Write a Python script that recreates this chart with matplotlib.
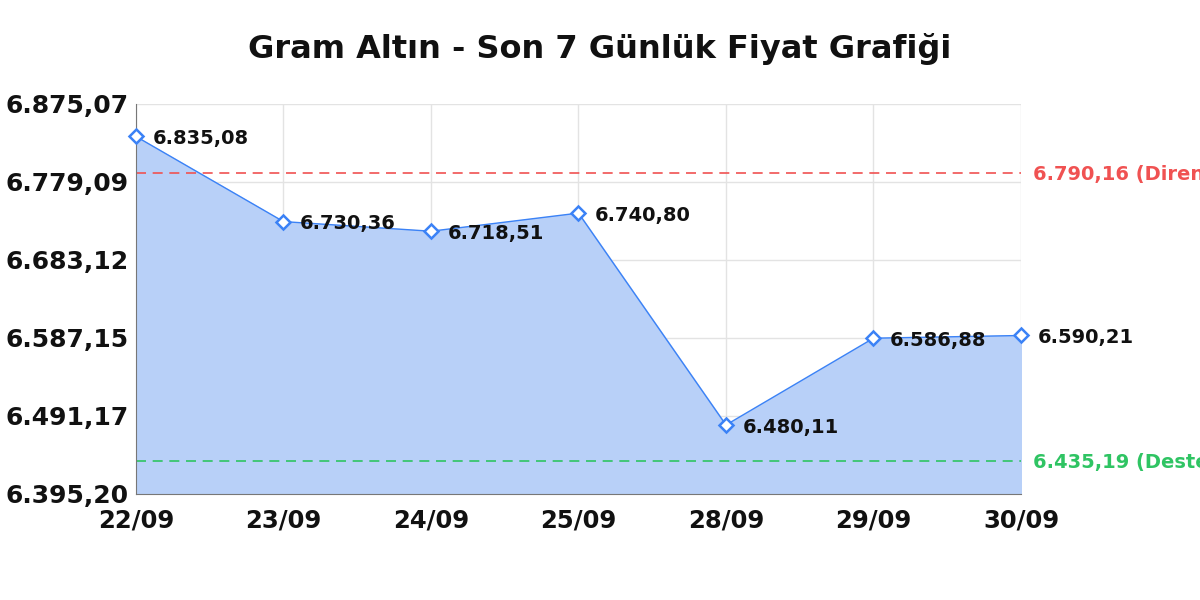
import numpy as np
import matplotlib
matplotlib.use("Agg")
import matplotlib.pyplot as plt

plt.rcParams["font.family"] = ["DejaVu Sans"]

dates = ["22/09", "23/09", "24/09", "25/09", "28/09", "29/09", "30/09"]
prices = [6835.08, 6730.36, 6718.51, 6740.80, 6480.11, 6586.88, 6590.21]
resistance = 6790.16
support = 6435.19
y_ticks = [6395.20, 6491.17, 6587.15, 6683.12, 6779.09, 6875.07]
y_tick_labels = ["6.395,20", "6.491,17", "6.587,15", "6.683,12", "6.779,09", "6.875,07"]


def fmt_tr(v):
    # Turkish number format: 6.835,08
    s = f"{v:,.2f}"
    return s.replace(",", "X").replace(".", ",").replace("X", ".")


fig = plt.figure(figsize=(12, 6), dpi=100)
ax = fig.add_axes([0.1133, 0.1767, 0.7375, 0.65])

x = np.arange(len(dates))
line_blue = "#3b82f6"
y_min, y_max = y_ticks[0], y_ticks[-1]

ax.fill_between(x, prices, y_min, color="#b8d0f8", zorder=1)
ax.plot(x, prices, color=line_blue, lw=1.0, zorder=3)
ax.plot(x, prices, linestyle="none", marker="D", markersize=7.5,
        markerfacecolor="white", markeredgecolor=line_blue,
        markeredgewidth=1.8, zorder=4, clip_on=False)

for xi, p in zip(x, prices):
    ax.annotate(fmt_tr(p), (xi, p), xytext=(12, -1.5), textcoords="offset points",
                ha="left", va="center", fontsize=14, fontweight="bold",
                color="#111111", zorder=5)

# support / resistance lines, labels run off the right edge like the original
ax.axhline(resistance, color="#f05252", lw=1.2, ls=(0, (6, 4)), zorder=2)
ax.axhline(support, color="#2fc463", lw=1.2, ls=(0, (6, 4)), zorder=2)
ax.annotate(f"{fmt_tr(resistance)} (Direnç)", (1.0, resistance),
            xycoords=("axes fraction", "data"), xytext=(9, -1),
            textcoords="offset points", ha="left", va="center",
            fontsize=14, fontweight="bold", color="#f05252",
            annotation_clip=False)
ax.annotate(f"{fmt_tr(support)} (Destek)", (1.0, support),
            xycoords=("axes fraction", "data"), xytext=(9, -1),
            textcoords="offset points", ha="left", va="center",
            fontsize=14, fontweight="bold", color="#2fc463",
            annotation_clip=False)

ax.set_xlim(0, len(dates) - 1)
ax.set_ylim(y_min, y_max)
ax.set_yticks(y_ticks)
ax.set_yticklabels(y_tick_labels)
ax.set_xticks(x)
ax.set_xticklabels(dates)
for lbl in ax.get_yticklabels():
    lbl.set_fontweight("bold")
    lbl.set_fontsize(18)
    lbl.set_color("#111111")
for lbl in ax.get_xticklabels():
    lbl.set_fontweight("bold")
    lbl.set_fontsize(17.5)
    lbl.set_color("#111111")
ax.tick_params(axis="y", length=0, pad=5.5)
ax.tick_params(axis="x", length=0, pad=10.5)

ax.grid(True, color="#e3e3e3", lw=1.0, zorder=0)
ax.set_axisbelow(True)
for side in ["top", "right"]:
    ax.spines[side].set_visible(False)
ax.spines["left"].set_color("#777777")
ax.spines["bottom"].set_color("#777777")

fig.text(0.5, 0.918, "Gram Altın - Son 7 Günlük Fiyat Grafiği", ha="center",
         va="center", fontsize=23, fontweight="bold", color="#111111")

fig.savefig("out.png", dpi=100)
